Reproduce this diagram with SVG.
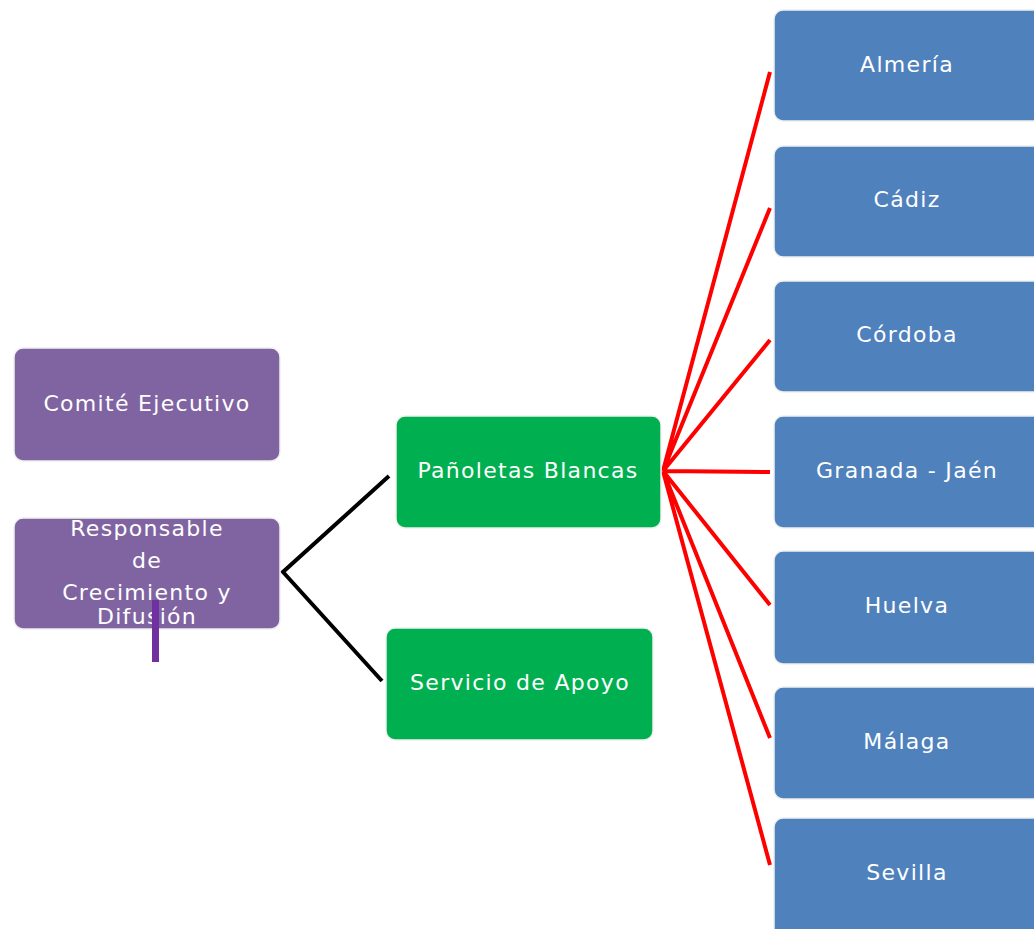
<svg xmlns="http://www.w3.org/2000/svg" width="1034" height="929" viewBox="0 0 1034 929">
<style>
.box{stroke:#f0f0f0;stroke-width:1.5}
.p{fill:#8064A2}.g{fill:#00B050}.b{fill:#4F81BD}
text{font-family:"DejaVu Sans",Verdana,sans-serif;font-size:22px;fill:#fff;text-anchor:middle;letter-spacing:1.3px}
.red{stroke:#ff0000;stroke-width:4;fill:none}
.blk{stroke:#000;stroke-width:4;fill:none}
</style>
<rect width="1034" height="929" fill="#fff"/>
<g id="connectors">
<path class="blk" d="M389,476 L283,572 L382,681"/>
<path class="red" d="M663,471 L770,72 M663,471 L770,208 M663,471 L770,340 M663,471 L770,472 M663,471 L770,605 M663,471 L770,738 M663,471 L770,865"/>
</g>
<g id="comite"><rect class="box p" x="14" y="348" width="266" height="113" rx="9"/><text x="147" y="411">Comité Ejecutivo</text></g>
<g id="responsable"><rect class="box p" x="14" y="518" width="266" height="111" rx="9"/>
<text x="147" y="536">Responsable</text><text x="147" y="568">de</text><text x="147" y="600">Crecimiento y</text><text x="147" y="624">Difusión</text></g>
<rect x="152" y="600" width="7" height="62" fill="#7030A0"/>
<g id="panoletas"><rect class="box g" x="396" y="416" width="265" height="112" rx="9"/><text x="528" y="478">Pañoletas Blancas</text></g>
<g id="servicio"><rect class="box g" x="386" y="628" width="267" height="112" rx="9"/><text x="520" y="690">Servicio de Apoyo</text></g>
<g id="almeria"><rect class="box b" x="774" y="10" width="270" height="111" rx="9"/><text x="907" y="72">Almería</text></g>
<g id="cadiz"><rect class="box b" x="774" y="146" width="270" height="111" rx="9"/><text x="907" y="207">Cádiz</text></g>
<g id="cordoba"><rect class="box b" x="774" y="281" width="270" height="111" rx="9"/><text x="907" y="342">Córdoba</text></g>
<g id="granada"><rect class="box b" x="774" y="416" width="270" height="112" rx="9"/><text x="907" y="478">Granada - Jaén</text></g>
<g id="huelva"><rect class="box b" x="774" y="551" width="270" height="113" rx="9"/><text x="907" y="613">Huelva</text></g>
<g id="malaga"><rect class="box b" x="774" y="687" width="270" height="112" rx="9"/><text x="907" y="749">Málaga</text></g>
<g id="sevilla"><rect class="box b" x="774" y="818" width="270" height="120" rx="9"/><text x="907" y="880">Sevilla</text></g>
</svg>
